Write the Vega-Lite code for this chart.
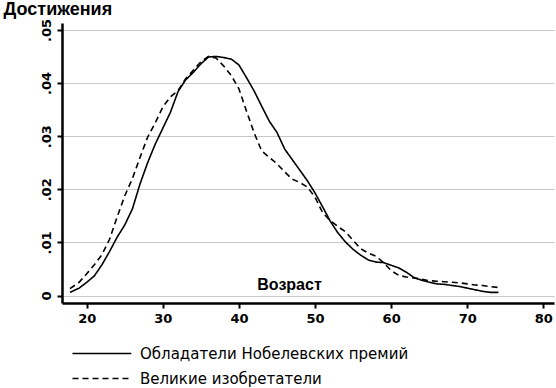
{
  "$schema": "https://vega.github.io/schema/vega-lite/v6.json",
  "width": 492,
  "height": 280,
  "autosize": "none",
  "padding": {"left": 62, "top": 23, "right": 2, "bottom": 85},
  "background": "white",
  "config": {
    "view": {"stroke": null},
    "axis": {
      "domainColor": "black",
      "domainWidth": 2.5,
      "tickColor": "black",
      "tickWidth": 2,
      "tickSize": 5,
      "labelColor": "black",
      "titleColor": "black",
      "labelFont": "DejaVu Sans",
      "labelFontWeight": "bold",
      "labelFontSize": 13,
      "gridColor": "#c8c8c8",
      "gridWidth": 1
    },
    "legend": {"padding": 0}
  },
  "data": {
    "values": [
      {"age": 17.8, "v": 0.0006, "g": "Обладатели Нобелевских премий"},
      {"age": 19, "v": 0.0014, "g": "Обладатели Нобелевских премий"},
      {"age": 20, "v": 0.0025, "g": "Обладатели Нобелевских премий"},
      {"age": 21, "v": 0.0037, "g": "Обладатели Нобелевских премий"},
      {"age": 22, "v": 0.0058, "g": "Обладатели Нобелевских премий"},
      {"age": 23, "v": 0.0083, "g": "Обладатели Нобелевских премий"},
      {"age": 24, "v": 0.011, "g": "Обладатели Нобелевских премий"},
      {"age": 25, "v": 0.0133, "g": "Обладатели Нобелевских премий"},
      {"age": 26, "v": 0.0163, "g": "Обладатели Нобелевских премий"},
      {"age": 27, "v": 0.021, "g": "Обладатели Нобелевских премий"},
      {"age": 28, "v": 0.025, "g": "Обладатели Нобелевских премий"},
      {"age": 29, "v": 0.0285, "g": "Обладатели Нобелевских премий"},
      {"age": 30, "v": 0.0315, "g": "Обладатели Нобелевских премий"},
      {"age": 31, "v": 0.0345, "g": "Обладатели Нобелевских премий"},
      {"age": 32, "v": 0.0384, "g": "Обладатели Нобелевских премий"},
      {"age": 33, "v": 0.0406, "g": "Обладатели Нобелевских премий"},
      {"age": 34, "v": 0.042, "g": "Обладатели Нобелевских премий"},
      {"age": 35, "v": 0.0436, "g": "Обладатели Нобелевских премий"},
      {"age": 36, "v": 0.0449, "g": "Обладатели Нобелевских премий"},
      {"age": 37, "v": 0.045, "g": "Обладатели Нобелевских премий"},
      {"age": 38, "v": 0.0448, "g": "Обладатели Нобелевских премий"},
      {"age": 39, "v": 0.0445, "g": "Обладатели Нобелевских премий"},
      {"age": 40, "v": 0.0434, "g": "Обладатели Нобелевских премий"},
      {"age": 41, "v": 0.041, "g": "Обладатели Нобелевских премий"},
      {"age": 42, "v": 0.0385, "g": "Обладатели Нобелевских премий"},
      {"age": 43, "v": 0.0356, "g": "Обладатели Нобелевских премий"},
      {"age": 44, "v": 0.0328, "g": "Обладатели Нобелевских премий"},
      {"age": 45, "v": 0.0307, "g": "Обладатели Нобелевских премий"},
      {"age": 46, "v": 0.0276, "g": "Обладатели Нобелевских премий"},
      {"age": 47, "v": 0.0256, "g": "Обладатели Нобелевских премий"},
      {"age": 48, "v": 0.0236, "g": "Обладатели Нобелевских премий"},
      {"age": 49, "v": 0.0216, "g": "Обладатели Нобелевских премий"},
      {"age": 50, "v": 0.0193, "g": "Обладатели Нобелевских премий"},
      {"age": 51, "v": 0.0167, "g": "Обладатели Нобелевских премий"},
      {"age": 52, "v": 0.014, "g": "Обладатели Нобелевских премий"},
      {"age": 53, "v": 0.0118, "g": "Обладатели Нобелевских премий"},
      {"age": 54, "v": 0.0101, "g": "Обладатели Нобелевских премий"},
      {"age": 55, "v": 0.0087, "g": "Обладатели Нобелевских премий"},
      {"age": 56, "v": 0.0076, "g": "Обладатели Нобелевских премий"},
      {"age": 57, "v": 0.0067, "g": "Обладатели Нобелевских премий"},
      {"age": 58, "v": 0.0063, "g": "Обладатели Нобелевских премий"},
      {"age": 59, "v": 0.0062, "g": "Обладатели Нобелевских премий"},
      {"age": 60, "v": 0.0057, "g": "Обладатели Нобелевских премий"},
      {"age": 61, "v": 0.0052, "g": "Обладатели Нобелевских премий"},
      {"age": 62, "v": 0.0044, "g": "Обладатели Нобелевских премий"},
      {"age": 63, "v": 0.0034, "g": "Обладатели Нобелевских премий"},
      {"age": 64, "v": 0.0029, "g": "Обладатели Нобелевских премий"},
      {"age": 65, "v": 0.0025, "g": "Обладатели Нобелевских премий"},
      {"age": 66, "v": 0.0022, "g": "Обладатели Нобелевских премий"},
      {"age": 67, "v": 0.0021, "g": "Обладатели Нобелевских премий"},
      {"age": 68, "v": 0.0019, "g": "Обладатели Нобелевских премий"},
      {"age": 69, "v": 0.0017, "g": "Обладатели Нобелевских премий"},
      {"age": 70, "v": 0.0014, "g": "Обладатели Нобелевских премий"},
      {"age": 71, "v": 0.0011, "g": "Обладатели Нобелевских премий"},
      {"age": 72, "v": 0.0008, "g": "Обладатели Нобелевских премий"},
      {"age": 73, "v": 0.0006, "g": "Обладатели Нобелевских премий"},
      {"age": 74.1, "v": 0.0006, "g": "Обладатели Нобелевских премий"},
      {"age": 17.8, "v": 0.0013, "g": "Великие изобретатели"},
      {"age": 19, "v": 0.0025, "g": "Великие изобретатели"},
      {"age": 20, "v": 0.0041, "g": "Великие изобретатели"},
      {"age": 21, "v": 0.0058, "g": "Великие изобретатели"},
      {"age": 22, "v": 0.0077, "g": "Великие изобретатели"},
      {"age": 23, "v": 0.0106, "g": "Великие изобретатели"},
      {"age": 24, "v": 0.0148, "g": "Великие изобретатели"},
      {"age": 25, "v": 0.0188, "g": "Великие изобретатели"},
      {"age": 26, "v": 0.022, "g": "Великие изобретатели"},
      {"age": 27, "v": 0.026, "g": "Великие изобретатели"},
      {"age": 28, "v": 0.0298, "g": "Великие изобретатели"},
      {"age": 29, "v": 0.0325, "g": "Великие изобретатели"},
      {"age": 30, "v": 0.0355, "g": "Великие изобретатели"},
      {"age": 31, "v": 0.0374, "g": "Великие изобретатели"},
      {"age": 32, "v": 0.0386, "g": "Великие изобретатели"},
      {"age": 33, "v": 0.0408, "g": "Великие изобретатели"},
      {"age": 34, "v": 0.0424, "g": "Великие изобретатели"},
      {"age": 35, "v": 0.044, "g": "Великие изобретатели"},
      {"age": 36, "v": 0.045, "g": "Великие изобретатели"},
      {"age": 37, "v": 0.0447, "g": "Великие изобретатели"},
      {"age": 38, "v": 0.0432, "g": "Великие изобретатели"},
      {"age": 39, "v": 0.0414, "g": "Великие изобретатели"},
      {"age": 40, "v": 0.0389, "g": "Великие изобретатели"},
      {"age": 41, "v": 0.0347, "g": "Великие изобретатели"},
      {"age": 42, "v": 0.0306, "g": "Великие изобретатели"},
      {"age": 43, "v": 0.0272, "g": "Великие изобретатели"},
      {"age": 44, "v": 0.026, "g": "Великие изобретатели"},
      {"age": 45, "v": 0.0248, "g": "Великие изобретатели"},
      {"age": 46, "v": 0.0233, "g": "Великие изобретатели"},
      {"age": 47, "v": 0.0219, "g": "Великие изобретатели"},
      {"age": 48, "v": 0.0213, "g": "Великие изобретатели"},
      {"age": 49, "v": 0.0204, "g": "Великие изобретатели"},
      {"age": 50, "v": 0.0185, "g": "Великие изобретатели"},
      {"age": 51, "v": 0.0156, "g": "Великие изобретатели"},
      {"age": 52, "v": 0.0141, "g": "Великие изобретатели"},
      {"age": 53, "v": 0.013, "g": "Великие изобретатели"},
      {"age": 54, "v": 0.012, "g": "Великие изобретатели"},
      {"age": 55, "v": 0.0104, "g": "Великие изобретатели"},
      {"age": 56, "v": 0.0088, "g": "Великие изобретатели"},
      {"age": 57, "v": 0.008, "g": "Великие изобретатели"},
      {"age": 58, "v": 0.0074, "g": "Великие изобретатели"},
      {"age": 59, "v": 0.0062, "g": "Великие изобретатели"},
      {"age": 60, "v": 0.0047, "g": "Великие изобретатели"},
      {"age": 61, "v": 0.0038, "g": "Великие изобретатели"},
      {"age": 62, "v": 0.0035, "g": "Великие изобретатели"},
      {"age": 63, "v": 0.0033, "g": "Великие изобретатели"},
      {"age": 64, "v": 0.0031, "g": "Великие изобретатели"},
      {"age": 65, "v": 0.0028, "g": "Великие изобретатели"},
      {"age": 66, "v": 0.0027, "g": "Великие изобретатели"},
      {"age": 67, "v": 0.0026, "g": "Великие изобретатели"},
      {"age": 68, "v": 0.0025, "g": "Великие изобретатели"},
      {"age": 69, "v": 0.0024, "g": "Великие изобретатели"},
      {"age": 70, "v": 0.0022, "g": "Великие изобретатели"},
      {"age": 71, "v": 0.002, "g": "Великие изобретатели"},
      {"age": 72, "v": 0.0019, "g": "Великие изобретатели"},
      {"age": 73, "v": 0.0017, "g": "Великие изобретатели"},
      {"age": 74.2, "v": 0.0015, "g": "Великие изобретатели"}
    ]
  },
  "mark": {"type": "line", "color": "black", "strokeWidth": 1.6},
  "encoding": {
    "x": {
      "field": "age",
      "type": "quantitative",
      "scale": {"domain": [16.75, 81.4], "nice": false, "zero": false},
      "axis": {
        "values": [20, 30, 40, 50, 60, 70, 80],
        "grid": false,
        "labelPadding": 4,
        "title": "Возраст",
        "titleFont": "Liberation Sans",
        "titleFontWeight": "bold",
        "titleFontSize": 16,
        "titleX": 227,
        "titleY": -13.7,
        "titleAlign": "center",
        "titleBaseline": "alphabetic"
      }
    },
    "y": {
      "field": "v",
      "type": "quantitative",
      "scale": {"domain": [-0.0014, 0.0513], "nice": false, "zero": false},
      "axis": {
        "values": [0, 0.01, 0.02, 0.03, 0.04, 0.05],
        "grid": true,
        "labelAngle": -90,
        "labelAlign": "center",
        "labelBaseline": "alphabetic",
        "labelPadding": 7,
        "labelFontSize": 13,
        "labelExpr": "datum.value == 0 ? '0' : replace(format(datum.value, '.2f'), '0.', '.')",
        "title": "Достижения",
        "titleFont": "Liberation Sans",
        "titleFontWeight": "bold",
        "titleFontSize": 18,
        "titleAngle": 0,
        "titleAlign": "left",
        "titleBaseline": "alphabetic",
        "titleX": -59,
        "titleY": -9
      }
    },
    "strokeDash": {
      "field": "g",
      "type": "nominal",
      "scale": {
        "domain": ["Обладатели Нобелевских премий", "Великие изобретатели"],
        "range": [[1, 0], [6, 4]]
      },
      "legend": {
        "title": null,
        "orient": "none",
        "legendX": 9,
        "legendY": 323,
        "direction": "vertical",
        "symbolType": "M -1 0 H 8.8",
        "symbolSize": 144,
        "symbolStrokeColor": "black",
        "symbolStrokeWidth": 1.6,
        "labelFont": "DejaVu Sans",
        "labelFontSize": 15,
        "labelColor": "black",
        "labelOffset": 54,
        "rowPadding": 9,
        "labelLimit": 400
      }
    }
  }
}
